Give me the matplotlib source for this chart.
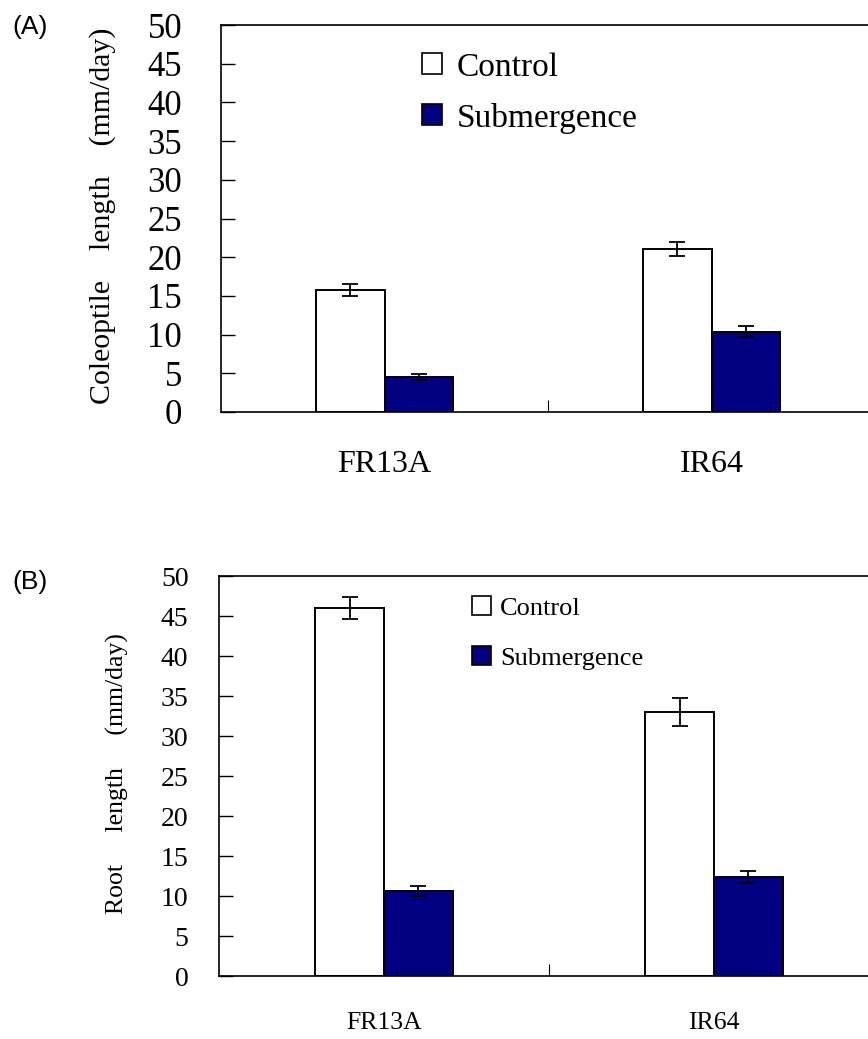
import matplotlib
matplotlib.use("Agg")
import matplotlib.pyplot as plt
from matplotlib.patches import Patch
import numpy as np

# ---- data ----
categories = ["FR13A", "IR64"]
series_names = ["Control", "Submergence"]

coleoptile_control = [15.8, 21.1]
coleoptile_control_err = [0.75, 0.9]
coleoptile_sub = [4.5, 10.4]
coleoptile_sub_err = [0.4, 0.7]

root_control = [46.0, 33.0]
root_control_err = [1.4, 1.7]
root_sub = [10.6, 12.4]
root_sub_err = [0.6, 0.75]

yticks = [0, 5, 10, 15, 20, 25, 30, 35, 40, 45, 50]

NAVY = "#000080"
SERIF = ["Liberation Serif", "DejaVu Serif"]
SANS = ["Liberation Sans", "DejaVu Sans"]

W, H = 868, 1039
fig = plt.figure(figsize=(W / 100, H / 100), dpi=100)


def px_axes(left, top, right, bottom):
    return [left / W, 1 - bottom / H, (right - left) / W, (bottom - top) / H]


def panel(ax, control, control_err, sub, sub_err, tick_fs, tick_pad, xlab_fs, xlab_pad,
          leg_fs, leg_anchor, leg_hl, leg_tp, leg_ls):
    x = np.arange(len(categories))
    bw = 0.208
    ax.bar(x - bw / 2, control, bw, color="white", edgecolor="black", linewidth=1.4,
           label=series_names[0], zorder=2)
    ax.bar(x + bw / 2, sub, bw, color=NAVY, edgecolor="black", linewidth=1.4,
           label=series_names[1], zorder=2)
    ax.errorbar(x - bw / 2, control, yerr=control_err, fmt="none", ecolor="black",
                elinewidth=1.3, capsize=6, capthick=1.3, zorder=3)
    ax.errorbar(x + bw / 2, sub, yerr=sub_err, fmt="none", ecolor="black",
                elinewidth=1.3, capsize=6, capthick=1.3, zorder=3)
    ax.set_xlim(-0.5, 1.5)
    ax.set_ylim(0, 50)
    ax.set_yticks(yticks)
    ax.set_yticklabels([str(v) for v in yticks], fontsize=tick_fs, family=SERIF)
    ax.tick_params(axis="y", direction="in", length=10, width=1.0, pad=tick_pad)
    # category separator tick (major) and labels (minor)
    ax.set_xticks([0.5])
    ax.set_xticklabels([""])
    ax.tick_params(axis="x", which="major", direction="in", length=9, width=0.8)
    ax.set_xticks(x, minor=True)
    ax.set_xticklabels(categories, minor=True, fontsize=xlab_fs, family=SERIF)
    ax.tick_params(axis="x", which="minor", length=0, pad=xlab_pad)
    for s in ["left", "bottom", "top"]:
        ax.spines[s].set_linewidth(1.2)
    ax.spines["right"].set_visible(False)
    handles = [Patch(facecolor="white", edgecolor="black", linewidth=1.2),
               Patch(facecolor=NAVY, edgecolor="black", linewidth=1.2)]
    ax.legend(handles, series_names, loc="upper left", bbox_to_anchor=leg_anchor,
              frameon=False, borderpad=0, borderaxespad=0,
              handlelength=leg_hl, handleheight=leg_hl, handletextpad=leg_tp,
              labelspacing=leg_ls, prop={"family": SERIF, "size": leg_fs})


ax1 = fig.add_axes(px_axes(221, 25, 875, 412))
panel(ax1, coleoptile_control, coleoptile_control_err, coleoptile_sub, coleoptile_sub_err,
      tick_fs=25, tick_pad=28, xlab_fs=23, xlab_pad=27,
      leg_fs=24, leg_anchor=(0.307, 0.93), leg_hl=0.6, leg_tp=0.45, leg_ls=0.6)

ax2 = fig.add_axes(px_axes(219, 576, 879, 976))
panel(ax2, root_control, root_control_err, root_sub, root_sub_err,
      tick_fs=20, tick_pad=22, xlab_fs=18.5, xlab_pad=26,
      leg_fs=19, leg_anchor=(0.384, 0.95), leg_hl=0.72, leg_tp=0.33, leg_ls=1.0)

fig.text(103 / W, 1 - 216 / H, "Coleoptile    length    (mm/day)", rotation=90,
         ha="center", va="center", fontsize=21.5, family=SERIF)
fig.text(117 / W, 1 - 774 / H, "Root     length     (mm/day)", rotation=90,
         ha="center", va="center", fontsize=18.5, family=SERIF)

fig.text(12 / W, 1 - 27 / H, "(A)", ha="left", va="center", fontsize=19, family=SANS)
fig.text(12 / W, 1 - 582 / H, "(B)", ha="left", va="center", fontsize=19, family=SANS)

fig.savefig("out.png", dpi=100)
